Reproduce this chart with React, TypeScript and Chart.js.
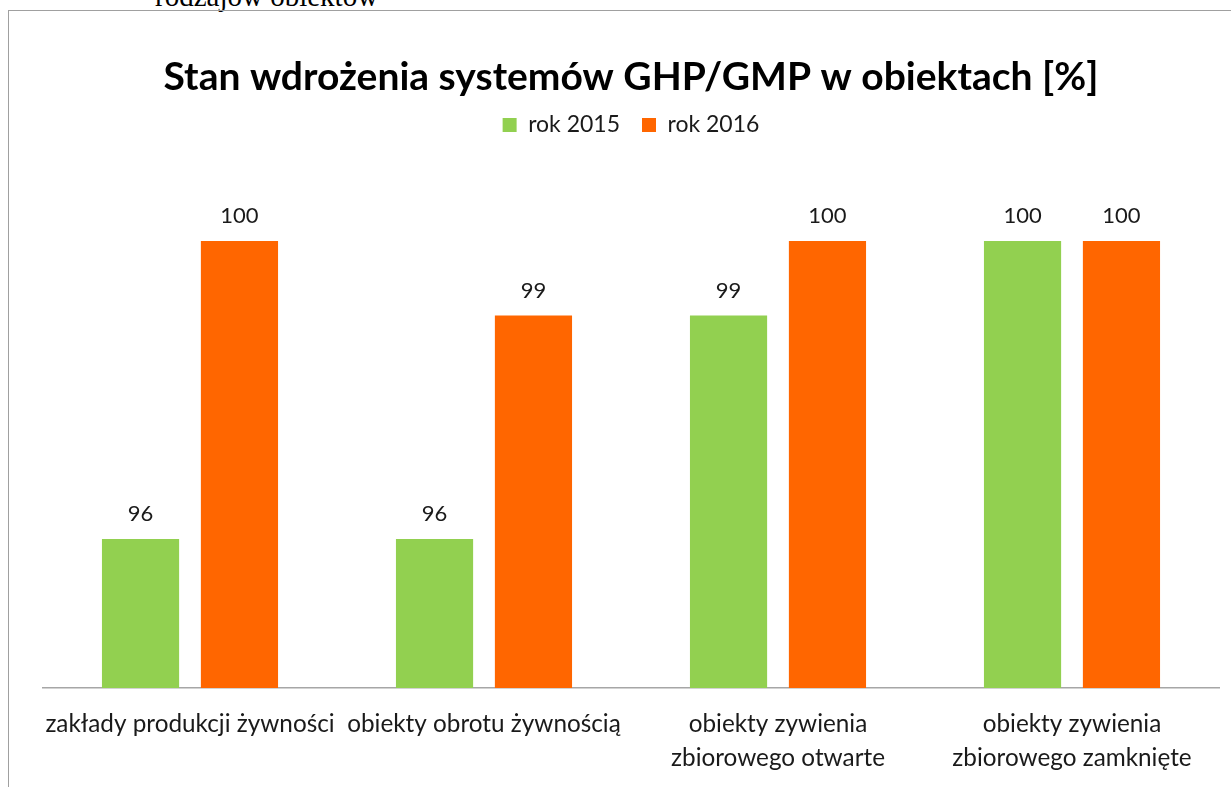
import React, { useEffect, useRef } from 'react';
import { Chart, registerables } from 'chart.js';

Chart.register(...registerables);

const categories: (string | string[])[] = [
  'zakłady produkcji żywności',
  'obiekty obrotu żywnością',
  ['obiekty zywienia', 'zbiorowego otwarte'],
  ['obiekty zywienia', 'zbiorowego zamknięte'],
];
const seriesNames = ['rok 2015', 'rok 2016'];
const values2015 = [96, 96, 99, 100];
const values2016 = [100, 99, 100, 100];
const seriesColors = ['#92D050', '#FF6600'];
const titleText = 'Stan wdrożenia systemów GHP/GMP w obiektach [%]';
const captionText = 'rodzajów obiektów';
const yMin = 94;
const yMax = 101.27;

const FONT = 'Lato';
const TEXT = '#1a1a1a';

const valueLabels = {
  id: 'valueLabels',
  afterDatasetsDraw(chart: any) {
    const ctx = chart.ctx;
    ctx.save();
    ctx.font = `22px ${FONT}`;
    ctx.fillStyle = TEXT;
    ctx.textAlign = 'center';
    ctx.textBaseline = 'alphabetic';
    chart.data.datasets.forEach((ds: any, i: number) => {
      const meta = chart.getDatasetMeta(i);
      meta.data.forEach((bar: any, j: number) => {
        ctx.fillText(String(ds.data[j]), bar.x, bar.y - 18);
      });
    });
    ctx.restore();
  },
};

export default function App() {
  const canvasRef = useRef<HTMLCanvasElement | null>(null);

  useEffect(() => {
    if (!canvasRef.current) return;
    Chart.defaults.font.family = FONT;
    const chart = new Chart(canvasRef.current, {
      type: 'bar',
      data: {
        labels: categories,
        datasets: [
          {
            label: seriesNames[0],
            data: values2015,
            backgroundColor: seriesColors[0],
            categoryPercentage: 0.673,
            barPercentage: 0.78,
          },
          {
            label: seriesNames[1],
            data: values2016,
            backgroundColor: seriesColors[1],
            categoryPercentage: 0.673,
            barPercentage: 0.78,
          },
        ],
      },
      options: {
        animation: false,
        responsive: true,
        maintainAspectRatio: false,
        layout: { padding: { left: 34, right: 12, top: 0, bottom: 0 } },
        plugins: {
          title: {
            display: true,
            text: titleText,
            color: '#000',
            font: { family: FONT, size: 39, weight: 'bold', lineHeight: 0.7 },
            padding: { top: 53, bottom: 0.2 },
          },
          legend: {
            display: true,
            position: 'top',
            labels: {
              boxWidth: 14,
              boxHeight: 14,
              padding: 22,
              color: TEXT,
              font: { family: FONT, size: 23 },
            },
          },
          tooltip: { enabled: false },
        },
        scales: {
          x: {
            grid: { display: false },
            border: { display: true, color: '#a6a6a6', width: 1.5 },
            ticks: {
              color: TEXT,
              font: { family: FONT, size: 24.3, lineHeight: 1.4 },
              padding: 11,
              autoSkip: false,
              maxRotation: 0,
              minRotation: 0,
            },
            afterFit(scale: any) {
              scale.height = 99;
            },
          },
          y: {
            display: false,
            min: yMin,
            max: yMax,
          },
        },
      },
      plugins: [valueLabels],
    });
    return () => chart.destroy();
  }, []);

  return (
    <div style={{ position: 'fixed', left: 0, top: 0, width: 1231, height: 787, overflow: 'hidden', background: '#fff' }}>
      <div
        style={{
          position: 'absolute',
          left: 155,
          top: -18,
          fontFamily: '"Liberation Serif", serif',
          fontSize: 29,
          lineHeight: '29px',
          whiteSpace: 'nowrap',
          color: '#000',
        }}
      >
        {captionText}
      </div>
      <div
        style={{
          position: 'absolute',
          left: 8,
          top: 10,
          width: 1223,
          height: 777,
          borderLeft: '1px solid #a0a0a0',
          borderTop: '1px solid #a0a0a0',
          boxSizing: 'border-box',
        }}
      />
      <div style={{ position: 'absolute', left: 9, top: 11, width: 1222, height: 776 }}>
        <canvas ref={canvasRef} />
      </div>
    </div>
  );
}
